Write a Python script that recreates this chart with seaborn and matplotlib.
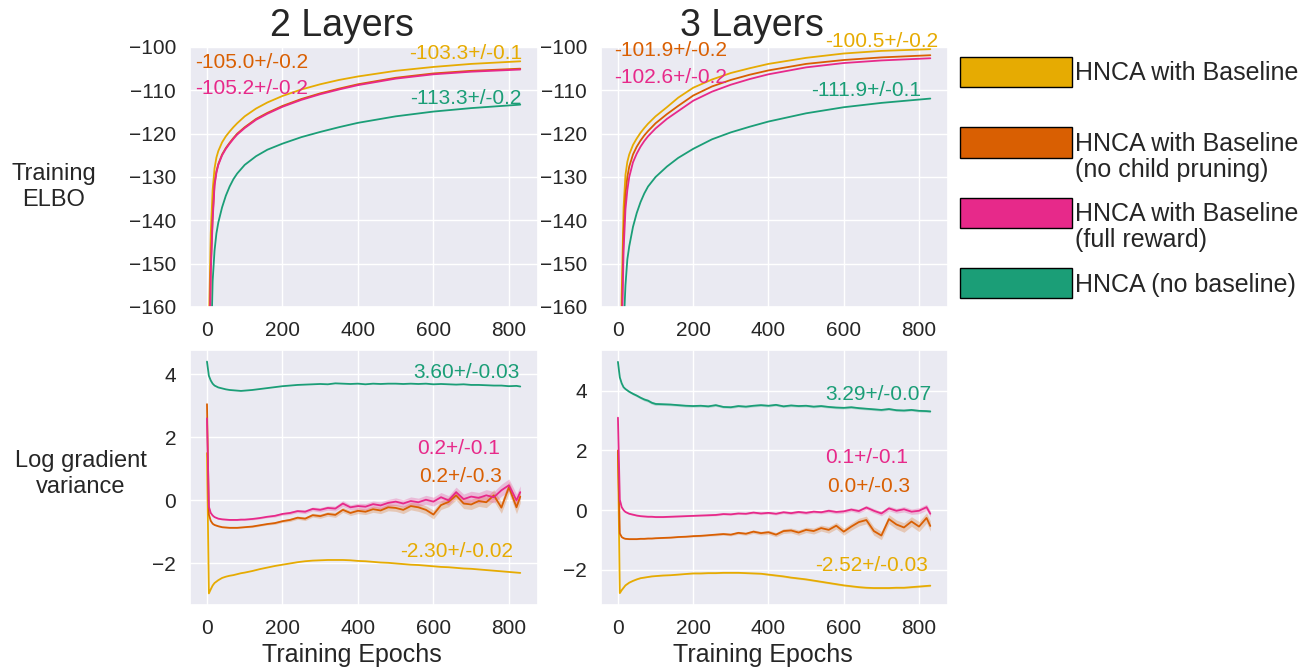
import numpy as np
import matplotlib
matplotlib.use("Agg")
import matplotlib.pyplot as plt
from matplotlib.patches import Patch
import seaborn as sns

# ---------------- data ----------------
SERIES = ["HNCA with Baseline", "HNCA with Baseline (no child pruning)",
          "HNCA with Baseline (full reward)", "HNCA (no baseline)"]
COLORS = ["#E6AB02", "#D95F02", "#E7298A", "#1B9E77"]

EPOCH_ELBO = [0, 5, 10, 15, 20, 25, 30, 40, 50, 60, 70, 80, 100, 130, 160, 200, 250, 300, 350, 400, 500, 600, 700, 830]

elbo2_yellow = [-300, -165, -143, -133, -128, -125.5, -124, -122, -120.6, -119.5, -118.5, -117.6, -116, -114.2, -112.8, -111.3, -109.8, -108.6, -107.6, -106.8, -105.5, -104.6, -103.9, -103.3]
elbo2_orange = [-300, -176, -151, -139, -131.5, -128.7, -127, -124.8, -123.3, -122.1, -121, -120, -118.5, -116.6, -115.2, -113.6, -112, -110.7, -109.6, -108.6, -107.1, -106.1, -105.5, -105.0]
elbo2_pink = [-300, -178, -152, -140, -132, -129, -127.2, -125, -123.5, -122.3, -121.2, -120.2, -118.7, -116.8, -115.4, -113.8, -112.2, -110.9, -109.8, -108.8, -107.3, -106.3, -105.7, -105.2]
elbo2_green = [-400, -230, -172, -154, -147, -143, -140.5, -137, -134.3, -132.2, -130.5, -129.2, -127.2, -125.2, -123.7, -122.3, -120.8, -119.6, -118.5, -117.5, -116, -114.9, -114.1, -113.3]

elbo3_yellow = [-300, -190, -157, -137, -129.5, -126.5, -124.8, -122.6, -121.1, -119.8, -118.7, -117.7, -116, -113.9, -111.7, -109.4, -107.5, -106.0, -104.9, -103.9, -102.5, -101.5, -100.9, -100.5]
elbo3_orange = [-300, -200, -163, -143, -134, -130, -127.6, -124.8, -123, -121.6, -120.4, -119.4, -117.6, -115.5, -113.6, -111.2, -109.1, -107.6, -106.4, -105.4, -103.9, -103.0, -102.4, -101.9]
elbo3_pink = [-300, -210, -168, -147, -137.5, -133, -130, -126.6, -124.6, -123, -121.7, -120.6, -118.8, -116.6, -114.8, -112.4, -110.3, -108.7, -107.4, -106.3, -104.7, -103.7, -103.1, -102.6]
elbo3_green = [-400, -260, -195, -165, -155, -149, -146, -141.5, -138.3, -135.8, -133.8, -132.2, -130, -127.6, -125.6, -123.5, -121.3, -119.7, -118.4, -117.2, -115.3, -113.9, -112.9, -111.9]

EPOCH_VAR = [0, 5, 10, 15, 20, 30, 40, 50, 60, 70, 80, 90, 100, 120, 140, 160, 180, 200, 220, 240,
             260, 280, 300, 320, 340, 360, 380, 400, 420, 440, 460, 480, 500, 520, 540, 560, 580, 600,
             620, 640, 660, 680, 700, 720, 740, 760, 780, 800, 820, 830]

var2_green = [4.40, 3.95, 3.80, 3.70, 3.64, 3.58, 3.55, 3.52, 3.50, 3.49, 3.48, 3.47, 3.48, 3.50, 3.53, 3.56, 3.59, 3.62, 3.64, 3.66,
              3.67, 3.68, 3.69, 3.68, 3.71, 3.70, 3.69, 3.70, 3.68, 3.70, 3.69, 3.70, 3.70, 3.69, 3.70, 3.69, 3.70, 3.68,
              3.69, 3.68, 3.67, 3.68, 3.66, 3.66, 3.65, 3.64, 3.64, 3.62, 3.63, 3.61]
var2_yellow = [1.50, -2.95, -2.82, -2.70, -2.62, -2.53, -2.46, -2.42, -2.39, -2.37, -2.34, -2.31, -2.29, -2.24, -2.18, -2.13, -2.08, -2.04, -2.00, -1.96,
               -1.93, -1.91, -1.90, -1.89, -1.89, -1.89, -1.90, -1.92, -1.93, -1.95, -1.97, -1.98, -2.00, -2.02, -2.04, -2.05, -2.07, -2.09,
               -2.11, -2.12, -2.14, -2.16, -2.17, -2.19, -2.21, -2.23, -2.25, -2.27, -2.29, -2.30]
var2_pink = [2.60, -0.20, -0.40, -0.48, -0.53, -0.58, -0.60, -0.61, -0.62, -0.62, -0.62, -0.61, -0.61, -0.59, -0.56, -0.52, -0.49, -0.43, -0.40, -0.34,
             -0.36, -0.27, -0.30, -0.24, -0.26, -0.10, -0.22, -0.18, -0.20, -0.12, -0.16, -0.08, -0.04, -0.10, -0.02, -0.06, 0.02, -0.04,
             0.10, 0.00, 0.26, 0.04, 0.12, 0.08, 0.16, 0.10, 0.32, 0.48, 0.00, 0.26]
var2_orange = [3.05, -0.45, -0.65, -0.74, -0.78, -0.82, -0.85, -0.86, -0.87, -0.87, -0.87, -0.86, -0.85, -0.83, -0.79, -0.75, -0.72, -0.66, -0.62, -0.55,
               -0.58, -0.47, -0.50, -0.43, -0.46, -0.30, -0.40, -0.33, -0.36, -0.28, -0.32, -0.22, -0.24, -0.30, -0.18, -0.22, -0.30, -0.45,
               -0.15, -0.05, 0.16, -0.10, -0.13, -0.02, -0.06, 0.16, -0.23, 0.42, -0.22, 0.12]
band2_pink = [0.02, 0.02, 0.02, 0.02, 0.02, 0.02, 0.02, 0.02, 0.02, 0.02, 0.02, 0.02, 0.02, 0.03, 0.03, 0.03, 0.04, 0.04, 0.05, 0.05,
              0.06, 0.06, 0.07, 0.07, 0.08, 0.09, 0.08, 0.09, 0.10, 0.10, 0.11, 0.11, 0.12, 0.12, 0.13, 0.13, 0.14, 0.14,
              0.15, 0.15, 0.16, 0.16, 0.17, 0.17, 0.18, 0.18, 0.19, 0.20, 0.20, 0.20]
band2_orange = [0.02, 0.02, 0.02, 0.02, 0.02, 0.02, 0.02, 0.02, 0.02, 0.02, 0.02, 0.02, 0.02, 0.03, 0.03, 0.03, 0.04, 0.04, 0.05, 0.05,
                0.06, 0.06, 0.07, 0.07, 0.08, 0.08, 0.08, 0.09, 0.09, 0.10, 0.10, 0.11, 0.11, 0.12, 0.12, 0.13, 0.13, 0.14,
                0.14, 0.15, 0.15, 0.16, 0.16, 0.17, 0.17, 0.18, 0.18, 0.19, 0.20, 0.20]

var3_green = [4.97, 4.45, 4.25, 4.12, 4.06, 3.97, 3.90, 3.84, 3.77, 3.71, 3.67, 3.60, 3.56, 3.55, 3.54, 3.52, 3.50, 3.49, 3.50, 3.48,
              3.52, 3.46, 3.45, 3.49, 3.47, 3.50, 3.52, 3.50, 3.53, 3.48, 3.51, 3.49, 3.50, 3.47, 3.49, 3.46, 3.44, 3.43,
              3.45, 3.42, 3.40, 3.38, 3.36, 3.39, 3.35, 3.34, 3.36, 3.33, 3.32, 3.31]
var3_yellow = [1.94, -2.78, -2.68, -2.60, -2.52, -2.43, -2.37, -2.32, -2.28, -2.26, -2.24, -2.22, -2.21, -2.19, -2.18, -2.16, -2.14, -2.12, -2.12, -2.11,
               -2.11, -2.10, -2.10, -2.10, -2.11, -2.12, -2.13, -2.16, -2.19, -2.22, -2.26, -2.29, -2.32, -2.36, -2.40, -2.44, -2.48, -2.52,
               -2.55, -2.58, -2.60, -2.61, -2.61, -2.61, -2.60, -2.60, -2.58, -2.56, -2.54, -2.53]
var3_pink = [3.10, 0.35, 0.10, 0.00, -0.06, -0.12, -0.15, -0.18, -0.20, -0.21, -0.22, -0.22, -0.23, -0.23, -0.22, -0.21, -0.20, -0.19, -0.18, -0.17,
             -0.16, -0.13, -0.14, -0.11, -0.12, -0.08, -0.11, -0.09, -0.12, -0.07, -0.10, -0.06, -0.09, -0.05, -0.07, -0.02, -0.06, -0.04,
             0.02, -0.03, 0.09, -0.02, -0.11, 0.06, -0.02, 0.03, -0.05, -0.02, 0.10, -0.12]
var3_orange = [2.00, -0.78, -0.90, -0.94, -0.96, -0.97, -0.97, -0.97, -0.96, -0.96, -0.95, -0.95, -0.94, -0.93, -0.92, -0.90, -0.89, -0.87, -0.86, -0.84,
               -0.82, -0.80, -0.82, -0.76, -0.79, -0.72, -0.77, -0.74, -0.82, -0.70, -0.68, -0.75, -0.66, -0.70, -0.60, -0.66, -0.52, -0.72,
               -0.55, -0.40, -0.33, -0.70, -0.85, -0.30, -0.48, -0.58, -0.38, -0.55, -0.26, -0.53]
band3_green = [0.01, 0.02, 0.02, 0.03, 0.03, 0.03, 0.04, 0.04, 0.04, 0.05, 0.05, 0.05, 0.05, 0.04, 0.04, 0.04, 0.04, 0.04, 0.04, 0.04,
               0.04, 0.04, 0.04, 0.04, 0.04, 0.04, 0.04, 0.04, 0.04, 0.04, 0.04, 0.04, 0.04, 0.04, 0.04, 0.04, 0.04, 0.04,
               0.04, 0.04, 0.04, 0.04, 0.04, 0.04, 0.04, 0.04, 0.04, 0.04, 0.04, 0.04]
band3_yellow = [0.01, 0.01, 0.01, 0.01, 0.01, 0.01, 0.01, 0.01, 0.01, 0.01, 0.01, 0.01, 0.01, 0.01, 0.01, 0.01, 0.01, 0.02, 0.02, 0.02,
                0.02, 0.02, 0.02, 0.02, 0.02, 0.02, 0.02, 0.03, 0.03, 0.03, 0.03, 0.03, 0.03, 0.03, 0.03, 0.03, 0.03, 0.03,
                0.03, 0.03, 0.03, 0.03, 0.03, 0.03, 0.03, 0.03, 0.03, 0.03, 0.03, 0.03]
band3_pink = [0.02, 0.02, 0.02, 0.02, 0.02, 0.02, 0.02, 0.02, 0.02, 0.02, 0.02, 0.02, 0.02, 0.02, 0.02, 0.02, 0.02, 0.02, 0.02, 0.03,
              0.03, 0.03, 0.03, 0.03, 0.03, 0.04, 0.04, 0.04, 0.04, 0.04, 0.05, 0.05, 0.05, 0.05, 0.05, 0.06, 0.06, 0.06,
              0.06, 0.07, 0.07, 0.07, 0.08, 0.08, 0.08, 0.09, 0.09, 0.10, 0.10, 0.10]
band3_orange = [0.02, 0.02, 0.02, 0.02, 0.02, 0.02, 0.02, 0.02, 0.02, 0.02, 0.02, 0.02, 0.02, 0.02, 0.02, 0.02, 0.02, 0.03, 0.03, 0.03,
                0.04, 0.04, 0.04, 0.05, 0.05, 0.06, 0.06, 0.07, 0.07, 0.08, 0.08, 0.09, 0.09, 0.10, 0.10, 0.11, 0.11, 0.12,
                0.12, 0.13, 0.13, 0.14, 0.14, 0.15, 0.15, 0.16, 0.16, 0.17, 0.17, 0.17]

LABELS_ELBO2 = ["-103.3+/-0.1", "-105.0+/-0.2", "-105.2+/-0.2", "-113.3+/-0.2"]
LABELS_ELBO3 = ["-100.5+/-0.2", "-101.9+/-0.2", "-102.6+/-0.2", "-111.9+/-0.1"]
LABELS_VAR2 = ["-2.30+/-0.02", "0.2+/-0.3", "0.2+/-0.1", "3.60+/-0.03"]
LABELS_VAR3 = ["-2.52+/-0.03", "0.0+/-0.3", "0.1+/-0.1", "3.29+/-0.07"]

COL_TITLES = ["2 Layers", "3 Layers"]
ROW_LABELS = ["Training\nELBO", "Log gradient\nvariance"]
XLABEL = "Training Epochs"
LEGEND_LINES = [["HNCA with Baseline"], ["HNCA with Baseline", "(no child pruning)"],
                ["HNCA with Baseline", "(full reward)"], ["HNCA (no baseline)"]]

# ---------------- style ----------------
sns.set_theme(style="darkgrid")
plt.rcParams["font.family"] = ["Liberation Sans", "DejaVu Sans"]
W, H = 1310, 668
fig = plt.figure(figsize=(W / 100, H / 100), dpi=100)

def px_axes(x0, y0, x1, y1):
    return fig.add_axes([x0 / W, 1 - y1 / H, (x1 - x0) / W, (y1 - y0) / H])

ax_e2 = px_axes(190, 47, 538, 307)
ax_e3 = px_axes(601, 47, 948, 307)
ax_v2 = px_axes(190, 350, 538, 605)
ax_v3 = px_axes(601, 350, 948, 605)

LW = 1.3
TICK_FS = 15
ANN_FS = 15

def draw(ax, x, ys, bands):
    order = [3, 0, 1, 2]  # green, yellow, orange, pink
    for i in order:
        y = np.asarray(ys[i], dtype=float)
        if bands[i] is not None:
            b = np.asarray(bands[i], dtype=float)
            ax.fill_between(x, y - b, y + b, color=COLORS[i], alpha=0.25, linewidth=0)
        sns.lineplot(x=x, y=y, ax=ax, color=COLORS[i], linewidth=LW)
    ax.set_xlim(-45, 877)
    ax.set_xticks([0, 200, 400, 600, 800])
    ax.tick_params(labelsize=TICK_FS, pad=4)
    ax.set_xlabel("")
    ax.set_ylabel("")

draw(ax_e2, EPOCH_ELBO, [elbo2_yellow, elbo2_orange, elbo2_pink, elbo2_green], [None] * 4)
draw(ax_e3, EPOCH_ELBO, [elbo3_yellow, elbo3_orange, elbo3_pink, elbo3_green], [None] * 4)
draw(ax_v2, EPOCH_VAR, [var2_yellow, var2_orange, var2_pink, var2_green], [None, band2_orange, band2_pink, None])
draw(ax_v3, EPOCH_VAR, [var3_yellow, var3_orange, var3_pink, var3_green], [band3_yellow, band3_orange, band3_pink, band3_green])

for ax in (ax_e2, ax_e3):
    ax.set_ylim(-160, -100)
    ax.set_yticks(range(-160, -99, 10))
ax_v2.set_yticks([-2, 0, 2, 4])
ax_v3.set_yticks([-2, 0, 2, 4])

for ax, t in zip((ax_e2, ax_e3), COL_TITLES):
    ax.set_title(t, fontsize=27, x=0.436, pad=8)
for ax in (ax_v2, ax_v3):
    ax.set_xlabel(XLABEL, fontsize=18, x=0.466, labelpad=4)

# annotations (text placed in data coordinates)
def ann(ax, x, y, s, c, ha):
    ax.text(x, y, s, color=c, fontsize=ANN_FS, ha=ha, va="center")

ann(ax_e2, 834, -101.4, LABELS_ELBO2[0], COLORS[0], "right")
ann(ax_e2, -32, -103.5, LABELS_ELBO2[1], COLORS[1], "left")
ann(ax_e2, -32, -109.5, LABELS_ELBO2[2], COLORS[2], "left")
ann(ax_e2, 834, -112.0, LABELS_ELBO2[3], COLORS[3], "right")

ann(ax_e3, 850, -98.7, LABELS_ELBO3[0], COLORS[0], "right")
ann(ax_e3, -10, -100.8, LABELS_ELBO3[1], COLORS[1], "left")
ann(ax_e3, -10, -107.1, LABELS_ELBO3[2], COLORS[2], "left")
ann(ax_e3, 805, -110.0, LABELS_ELBO3[3], COLORS[3], "right")

ann(ax_v2, 811, -1.61, LABELS_VAR2[0], COLORS[0], "right")
ann(ax_v2, 781, 0.76, LABELS_VAR2[1], COLORS[1], "right")
ann(ax_v2, 776, 1.66, LABELS_VAR2[2], COLORS[2], "right")
ann(ax_v2, 829, 4.06, LABELS_VAR2[3], COLORS[3], "right")

ann(ax_v3, 824, -1.86, LABELS_VAR3[0], COLORS[0], "right")
ann(ax_v3, 776, 0.80, LABELS_VAR3[1], COLORS[1], "right")
ann(ax_v3, 771, 1.75, LABELS_VAR3[2], COLORS[2], "right")
ann(ax_v3, 832, 3.89, LABELS_VAR3[3], COLORS[3], "right")

# row labels
fig.text(54 / W, 1 - 187 / H, ROW_LABELS[0], fontsize=17, ha="center", va="center", multialignment="center")
fig.text(81 / W, 1 - 474 / H, ROW_LABELS[1], fontsize=17, ha="center", va="center", multialignment="center")

# legend
handles = [Patch(facecolor=c, edgecolor="black", linewidth=1.0) for c in COLORS]
leg = fig.legend(handles, [l[0] for l in LEGEND_LINES], loc="upper left",
                 bbox_to_anchor=(960 / W, 1 - 57 / H), bbox_transform=fig.transFigure,
                 frameon=False, fontsize=18, handlelength=4.48, handleheight=1.48,
                 handletextpad=0.12, labelspacing=1.61, borderpad=0, borderaxespad=0)
fig.canvas.draw()
renderer = fig.canvas.get_renderer()
for txt, lines in zip(leg.get_texts(), LEGEND_LINES):
    if len(lines) > 1:
        bb = txt.get_window_extent(renderer)
        fig.text(bb.x0 / W, (bb.y0 - 26) / H, lines[1], fontsize=18, ha="left", va="bottom")

fig.savefig("out.png", dpi=100)
